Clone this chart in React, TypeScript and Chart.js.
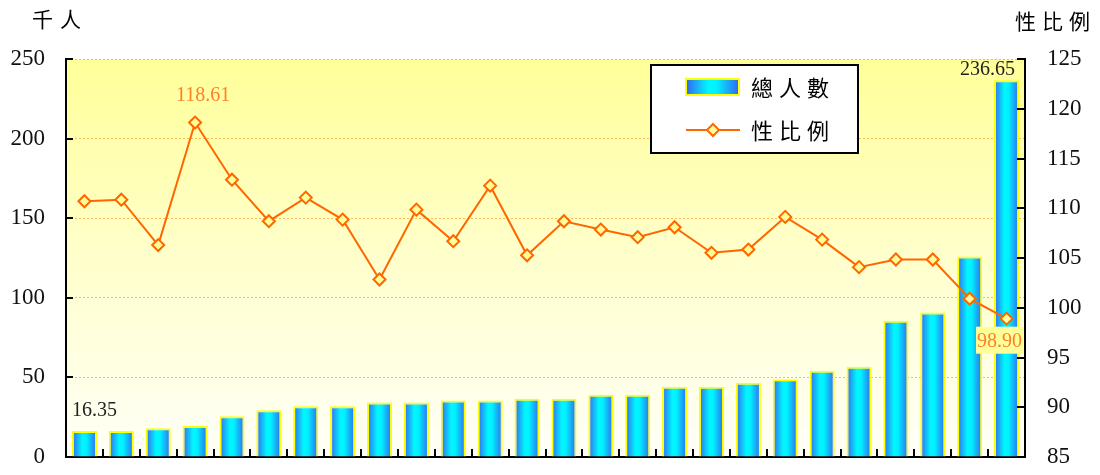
import React, { useEffect, useRef } from 'react';
import { Chart, registerables } from 'chart.js';

Chart.register(...registerables);

const categories = [
  '1', '2', '3', '4', '5', '6', '7', '8', '9', '10', '11', '12', '13',
  '14', '15', '16', '17', '18', '19', '20', '21', '22', '23', '24', '25', '26',
];
const totalPop = [
  16.35, 16.3, 18.0, 19.4, 25.6, 29.3, 31.8, 31.8, 34.2, 34.2, 35.5, 35.5, 36.6,
  36.6, 39.1, 39.1, 44.1, 44.1, 46.6, 48.9, 54.2, 56.7, 85.6, 90.7, 125.9, 236.65,
];
const sexRatio = [
  110.7, 110.86, 106.3, 118.61, 112.87, 108.7, 111.07, 108.86, 102.84, 109.86, 106.69, 112.27, 105.27,
  108.69, 107.86, 107.09, 108.09, 105.52, 105.85, 109.13, 106.85, 104.08, 104.85, 104.85, 100.91, 98.9,
];
const leftTicks = [0, 50, 100, 150, 200, 250];
const rightTicks = [85, 90, 95, 100, 105, 110, 115, 120, 125];
const barLabel = '總人數';
const lineLabel = '性比例';
const leftUnit = '千人';
const rightUnit = '性比例';

const SERIF = '"Liberation Serif", "Times New Roman", serif';
const CJK = '"Noto Sans CJK TC", "Noto Sans CJK SC", sans-serif';
const ORANGE = '#FF6600';

function barGradient(ctx: CanvasRenderingContext2D, left: number, right: number) {
  const g = ctx.createLinearGradient(left, 0, right, 0);
  g.addColorStop(0, '#3366EE');
  g.addColorStop(0.42, '#00F8FF');
  g.addColorStop(0.58, '#00F0FF');
  g.addColorStop(1, '#3366EE');
  return g;
}

function spacedText(ctx: CanvasRenderingContext2D, text: string, x: number, y: number, step: number) {
  const chars = Array.from(text);
  chars.forEach((ch, i) => ctx.fillText(ch, x + i * step, y));
}

const backgroundPlugin = {
  id: 'bgGradient',
  beforeDraw(chart: any) {
    const { ctx, chartArea: a } = chart;
    const g = ctx.createLinearGradient(0, a.top, 0, a.bottom);
    g.addColorStop(0, '#FFFF99');
    g.addColorStop(0.5, '#FFFFCC');
    g.addColorStop(1, '#FFFFF8');
    ctx.save();
    ctx.fillStyle = g;
    ctx.fillRect(a.left, a.top, a.right - a.left, a.bottom - a.top);
    ctx.restore();
  },
};

const ticksPlugin = {
  id: 'innerTicks',
  afterDraw(chart: any) {
    const { ctx, chartArea: a, scales } = chart;
    ctx.save();
    ctx.strokeStyle = '#000';
    ctx.lineWidth = 2;
    ctx.beginPath();
    leftTicks.forEach((v) => {
      const y = Math.round(scales.y.getPixelForValue(v));
      ctx.moveTo(a.left, y);
      ctx.lineTo(a.left + 7, y);
    });
    rightTicks.forEach((v) => {
      const y = Math.round(scales.y1.getPixelForValue(v));
      ctx.moveTo(a.right, y);
      ctx.lineTo(a.right - 8, y);
    });
    for (let i = 0; i < categories.length - 1; i++) {
      const x = Math.round(scales.x.getPixelForValue(i + 0.5));
      ctx.moveTo(x, a.bottom);
      ctx.lineTo(x, a.bottom - 8);
    }
    ctx.stroke();
    ctx.restore();
  },
};

const labelsPlugin = {
  id: 'valueLabels',
  afterDatasetsDraw(chart: any) {
    const { ctx, chartArea: a } = chart;
    const bars = chart.getDatasetMeta(0).data;
    const pts = chart.getDatasetMeta(1).data;
    ctx.save();
    ctx.font = `20px ${SERIF}`;
    ctx.textBaseline = 'bottom';
    const b0 = bars[0];
    ctx.fillStyle = '#222';
    ctx.textAlign = 'left';
    ctx.fillText(totalPop[0].toFixed(2), b0.x - b0.width / 2, b0.y - 10);
    const last = totalPop.length - 1;
    const bl = bars[last];
    ctx.textAlign = 'right';
    ctx.fillText(totalPop[last].toFixed(2), bl.x + bl.width / 2 - 4, bl.y - 1);
    let maxI = 0;
    let minI = 0;
    sexRatio.forEach((v, i) => {
      if (v > sexRatio[maxI]) maxI = i;
      if (v < sexRatio[minI]) minI = i;
    });
    const pMax = pts[maxI];
    ctx.fillStyle = '#FF7F2A';
    ctx.textAlign = 'center';
    ctx.fillText(sexRatio[maxI].toFixed(2), pMax.x + 8, pMax.y - 17);
    const pMin = pts[minI];
    const txt = sexRatio[minI].toFixed(2);
    const w = ctx.measureText(txt).width + 2;
    const right = a.right - 2;
    ctx.fillStyle = '#FFFF99';
    ctx.fillRect(right - w, pMin.y + 8, w, 27);
    ctx.fillStyle = '#FF7F2A';
    ctx.textAlign = 'right';
    ctx.fillText(txt, right - 1, pMin.y + 33);
    ctx.restore();
  },
};

const legendPlugin = {
  id: 'boxLegend',
  afterDraw(chart: any) {
    const { ctx } = chart;
    const ds = chart.data.datasets;
    ctx.save();
    ctx.fillStyle = '#FFFFFF';
    ctx.fillRect(651, 65, 207, 88);
    ctx.strokeStyle = '#000';
    ctx.lineWidth = 2;
    ctx.strokeRect(651, 65, 207, 88);
    ctx.fillStyle = barGradient(ctx, 686, 739);
    ctx.fillRect(686, 79, 53, 16);
    ctx.strokeStyle = '#FFFF00';
    ctx.lineWidth = 2;
    ctx.strokeRect(686, 79, 53, 16);
    ctx.strokeStyle = ORANGE;
    ctx.lineWidth = 2;
    ctx.beginPath();
    ctx.moveTo(686, 130);
    ctx.lineTo(740, 130);
    ctx.stroke();
    ctx.beginPath();
    ctx.moveTo(713, 124);
    ctx.lineTo(719, 130);
    ctx.lineTo(713, 136);
    ctx.lineTo(707, 130);
    ctx.closePath();
    ctx.fillStyle = '#FFFF99';
    ctx.fill();
    ctx.stroke();
    ctx.fillStyle = '#000';
    ctx.font = `22px ${CJK}`;
    ctx.textBaseline = 'middle';
    ctx.textAlign = 'left';
    spacedText(ctx, ds[0].label, 751, 88, 28);
    spacedText(ctx, ds[1].label, 751, 131, 28);
    ctx.font = `21px ${CJK}`;
    spacedText(ctx, leftUnit, 32, 19, 28);
    spacedText(ctx, rightUnit, 1015, 21, 27);
    ctx.restore();
  },
};

export default function App() {
  const ref = useRef<HTMLCanvasElement>(null);
  useEffect(() => {
    const canvas = ref.current;
    if (!canvas) return;
    const chart = new Chart(canvas, {
      type: 'bar',
      data: {
        labels: categories,
        datasets: [
          {
            type: 'bar',
            label: barLabel,
            data: totalPop,
            yAxisID: 'y',
            order: 2,
            barPercentage: 0.68,
            categoryPercentage: 1,
            borderColor: '#FFFF00',
            borderWidth: { left: 2, right: 2, top: 2, bottom: 0 },
            borderSkipped: 'bottom',
            backgroundColor: (c: any) => {
              const ch = c.chart;
              const xs = ch.scales && ch.scales.x;
              if (!xs || !ch.chartArea) return '#00CCFF';
              const center = xs.getPixelForValue(c.dataIndex);
              const step = xs.getPixelForValue(1) - xs.getPixelForValue(0);
              const half = (step * 0.68) / 2;
              return barGradient(ch.ctx, center - half, center + half);
            },
          } as any,
          {
            type: 'line',
            label: lineLabel,
            data: sexRatio,
            yAxisID: 'y1',
            order: 1,
            borderColor: ORANGE,
            borderWidth: 2,
            pointStyle: 'rectRot',
            pointRadius: 6,
            pointBorderWidth: 2,
            pointBorderColor: ORANGE,
            pointBackgroundColor: '#FFFF99',
            tension: 0,
          } as any,
        ],
      },
      options: {
        responsive: false,
        animation: false,
        layout: { padding: { top: 59, left: 0, right: 0, bottom: 0 } },
        plugins: {
          legend: { display: false },
          tooltip: { enabled: false },
        },
        scales: {
          x: {
            offset: true,
            grid: { display: false },
            ticks: { display: false },
            border: { display: true, color: '#000', width: 2 },
            afterFit: (s: any) => {
              s.height = 18;
              s.paddingLeft = 0;
              s.paddingRight = 0;
            },
          },
          y: {
            position: 'left',
            min: 0,
            max: 250,
            afterBuildTicks: (s: any) => {
              s.ticks = leftTicks.map((v) => ({ value: v }));
            },
            grid: {
              color: 'rgba(255, 165, 60, 0.8)',
              lineWidth: 1,
              drawTicks: false,
            },
            border: { display: true, color: '#000', width: 2, dash: [2, 2] },
            ticks: {
              padding: 21,
              color: '#111',
              font: { family: SERIF, size: 23 },
            },
            afterFit: (s: any) => {
              s.width = 66;
              s.paddingTop = 0;
              s.paddingBottom = 0;
            },
          },
          y1: {
            position: 'right',
            min: 85,
            max: 125,
            afterBuildTicks: (s: any) => {
              s.ticks = rightTicks.map((v) => ({ value: v }));
            },
            grid: { display: false, drawTicks: false },
            border: { display: true, color: '#000', width: 2 },
            ticks: {
              padding: 22,
              color: '#111',
              font: { family: SERIF, size: 23 },
            },
            afterFit: (s: any) => {
              s.width = 75;
              s.paddingTop = 0;
              s.paddingBottom = 0;
            },
          },
        },
      },
      plugins: [backgroundPlugin, labelsPlugin, ticksPlugin, legendPlugin],
    });
    return () => chart.destroy();
  }, []);
  return (
    <div style={{ position: 'fixed', left: 0, top: 0, width: 1100, height: 475, background: '#fff' }}>
      <canvas ref={ref} width={1100} height={475} style={{ display: 'block' }} />
    </div>
  );
}
